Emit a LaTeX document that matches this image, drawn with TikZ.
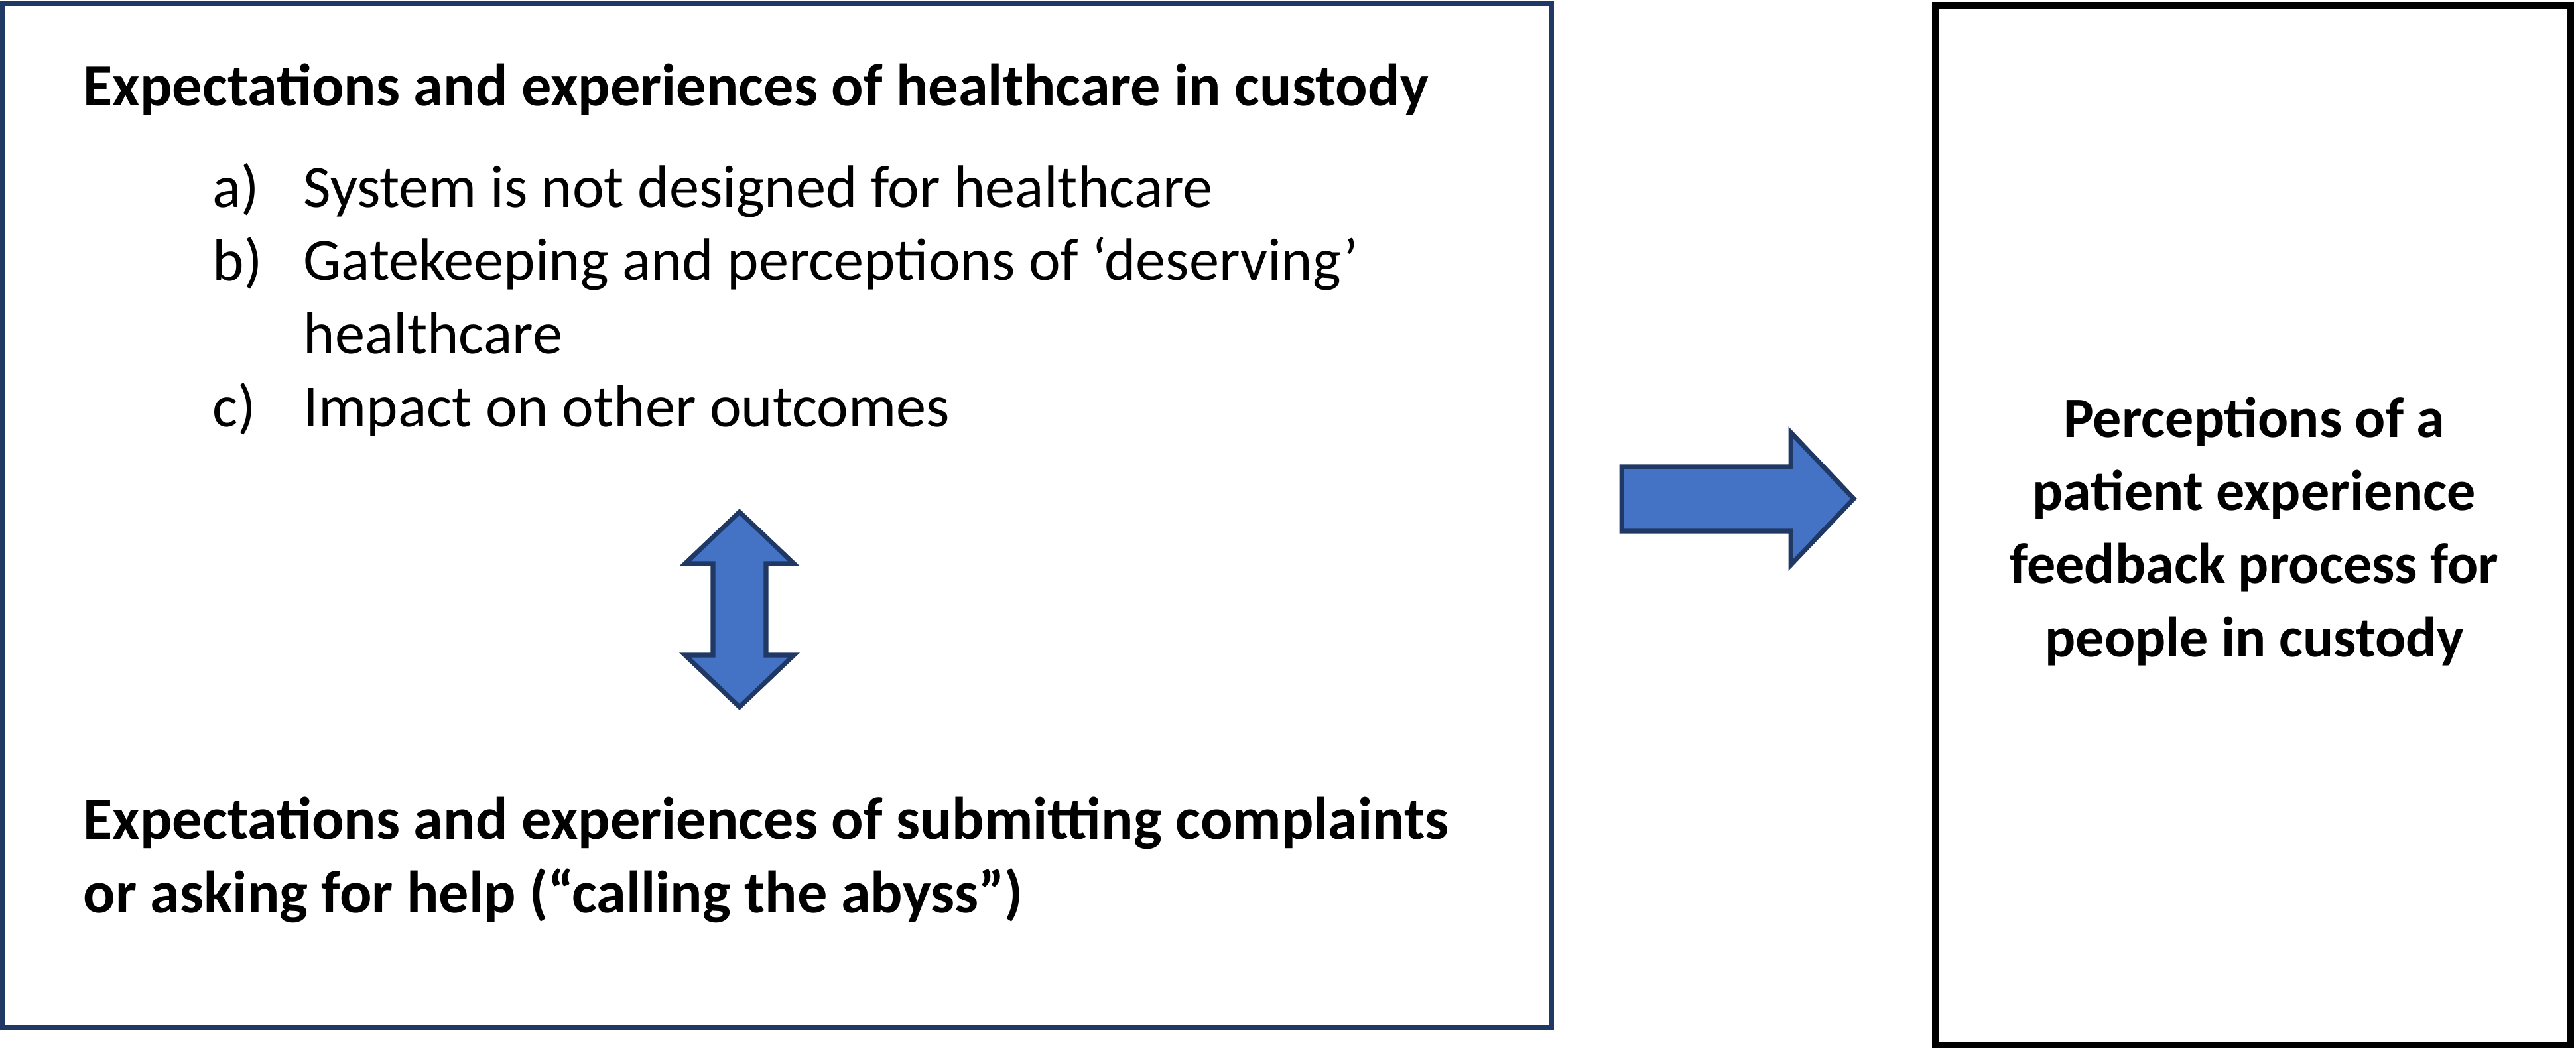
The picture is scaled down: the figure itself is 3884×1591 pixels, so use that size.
\documentclass[tikz,border=0pt]{standalone}
\usepackage{fontspec}
\setmainfont{Carlito}
\usetikzlibrary{positioning}
\definecolor{navy}{HTML}{1F3864}
\definecolor{arrowblue}{HTML}{4472C4}

\begin{document}
\begin{tikzpicture}[x=0.01cm, y=-0.01cm,
		heading/.style={font=\fontsize{25.7}{31.3}\selectfont\bfseries, anchor=base west, inner sep=0pt, align=left},
		item/.style={font=\fontsize{25.7}{31.3}\selectfont, anchor=base west, inner sep=0pt, align=left},
		blockarrow/.style={draw=navy, fill=arrowblue, line width=2pt, line join=miter}]
	\useasboundingbox (0,0) rectangle (3884,1591);

	% the two boxes
	\coordinate (L1) at (3.5, 5.5);
	\coordinate (L2) at (2339, 1550);
	\coordinate (R1) at (2918, 8);
	\coordinate (R2) at (3876, 1576);
	\draw[navy, line width=2pt] (L1) rectangle (L2);
	\draw[black, line width=3.1pt] (R1) rectangle (R2);

	% left box text (multi-line nodes sit on their last line)
	\node[heading] (custody) at (125, 160) {Expectations and experiences of healthcare in custody};
	\node[item] (a label) at (320, 313) {a)};
	\node[item] (a text) at (457, 313) {System is not designed for healthcare};
	\node[item] (b label) at (320, 423) {b)};
	\node[item] (b text) at (457, 533) {Gatekeeping and perceptions of ‘deserving’\\healthcare};
	\node[item] (c label) at (320, 643) {c)};
	\node[item] (c text) at (457, 643) {Impact on other outcomes};
	\node[heading] (complaints) at (125, 1376) {Expectations and experiences of submitting complaints\\or asking for help (“calling the abyss”)};

	% right box text
	\node[font=\fontsize{24.5}{31.3}\selectfont\bfseries, anchor=base, inner sep=0pt, align=center] (perceptions) at (3399, 990) {Perceptions of a\\patient experience\\feedback process for\\people in custody};

	% arrows
	\draw[blockarrow] (1115, 772) -- (1197, 850) -- (1155, 850) -- (1155, 988) -- (1197, 988) -- (1115, 1066)
		-- (1033, 988) -- (1075, 988) -- (1075, 850) -- (1033, 850) -- cycle;
	\draw[blockarrow] (2445, 704) -- (2700, 704) -- (2700, 652) -- (2795, 752) -- (2700, 852) -- (2700, 801)
		-- (2445, 801) -- cycle;
\end{tikzpicture}
\end{document}
